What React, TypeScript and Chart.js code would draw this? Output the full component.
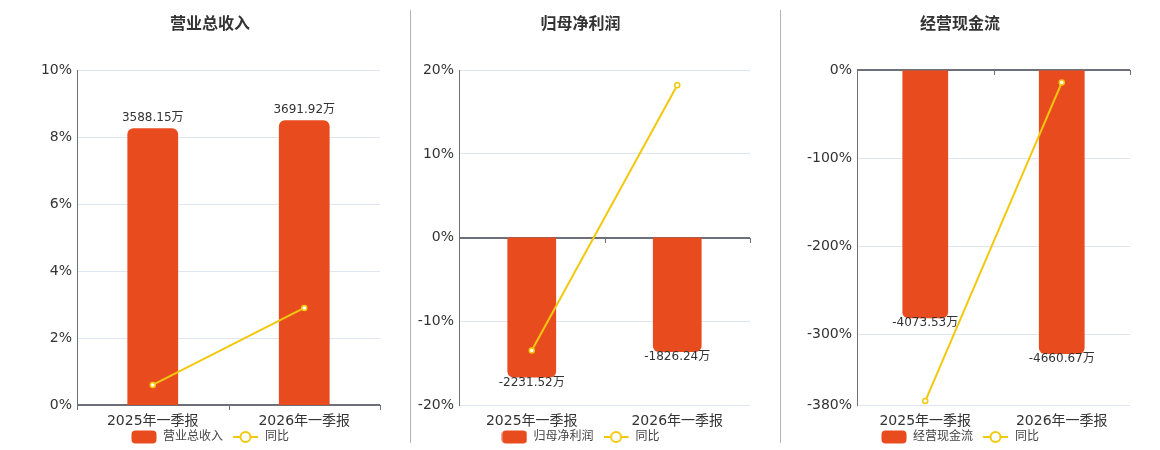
import React, { useEffect, useRef } from 'react';
import { Chart, registerables } from 'chart.js';

Chart.register(...registerables);

const categories = ['2025年一季报', '2026年一季报'];
const titles = ['营业总收入', '归母净利润', '经营现金流'];
const yoyLabel = '同比';
const unitSuffix = '万';

const revenueValues = [3588.15, 3691.92];
const revenueYoY = [0.6, 2.9];
const profitValues = [-2231.52, -1826.24];
const profitYoY = [-13.5, 18.2];
const cashflowValues = [-4073.53, -4660.67];
const cashflowYoY = [-375.5, -14];

const revenueTicks = [0, 2, 4, 6, 8, 10];
const profitTicks = [-20, -10, 0, 10, 20];
const cashflowTicks = [-380, -300, -200, -100, 0];

const revenueBarRange = [0, 4340];
const profitBarRange = [-2672, 2672];
const cashflowBarRange = [-5497, 0];

const BAR = '#e84c1e';
const LINE = '#f2c80f';
const AXIS = '#6e7079';
const GRID = '#e0e6f1';
const TEXT = '#333';
const FONT = "'DejaVu Sans', 'Noto Sans CJK SC', sans-serif";
const CANVAS_H = 470;
const LEGEND_SHIFT = 8;

const zeroAxisPlugin = {
  id: 'zeroAxis',
  beforeDatasetsDraw(chart: any) {
    const { ctx, chartArea, scales } = chart;
    const y = Math.round(scales.y.getPixelForValue(0));
    ctx.save();
    ctx.strokeStyle = AXIS;
    ctx.lineWidth = 2;
    ctx.beginPath();
    ctx.moveTo(chartArea.left, y);
    ctx.lineTo(chartArea.right, y);
    ctx.stroke();
    ctx.lineWidth = 1;
    const n = chart.data.labels.length;
    for (let i = 0; i <= n; i++) {
      const px = Math.round(scales.x.getPixelForValue(i - 0.5)) + 0.5;
      ctx.beginPath();
      ctx.moveTo(px, y);
      ctx.lineTo(px, y + 5);
      ctx.stroke();
    }
    ctx.restore();
  },
};

const barLabelPlugin = {
  id: 'barLabels',
  afterDatasetDraw(chart: any, args: any) {
    if (args.index !== 0) return;
    const { ctx } = chart;
    const data = chart.data.datasets[0].data as number[];
    ctx.save();
    ctx.font = `12px ${FONT}`;
    ctx.fillStyle = TEXT;
    ctx.textAlign = 'center';
    ctx.textBaseline = 'middle';
    args.meta.data.forEach((el: any, i: number) => {
      const v = data[i];
      const text = v.toFixed(2) + unitSuffix;
      const y = v >= 0 ? el.y - 10.5 : el.y + 5;
      ctx.fillText(text, el.x, y);
    });
    ctx.restore();
  },
};

const legendShiftPlugin = {
  id: 'legendShift',
  afterLayout(chart: any) {
    if (chart.legend) {
      chart.legend.top -= LEGEND_SHIFT;
      chart.legend.bottom -= LEGEND_SHIFT;
    }
  },
};

function makeBarIcon() {
  const c = document.createElement('canvas');
  c.width = 26;
  c.height = 14;
  const g = c.getContext('2d')!;
  g.fillStyle = BAR;
  g.beginPath();
  (g as any).roundRect(0.5, 0.5, 25, 13, 4);
  g.fill();
  return c;
}

function makeLineIcon() {
  const c = document.createElement('canvas');
  c.width = 26;
  c.height = 14;
  const g = c.getContext('2d')!;
  g.strokeStyle = LINE;
  g.lineWidth = 2;
  g.beginPath();
  g.moveTo(0, 7);
  g.lineTo(25, 7);
  g.stroke();
  g.beginPath();
  g.arc(12.5, 7, 5, 0, Math.PI * 2);
  g.fillStyle = '#fff';
  g.fill();
  g.stroke();
  return c;
}

type PanelProps = {
  title: string;
  values: number[];
  yoy: number[];
  ticks: number[];
  barRange: number[];
  left: number;
  width: number;
  padL: number;
  padR: number;
  yWidth: number;
};

function Panel(p: PanelProps) {
  const ref = useRef<HTMLCanvasElement | null>(null);
  useEffect(() => {
    if (!ref.current) return;
    const barIcon = makeBarIcon();
    const lineIcon = makeLineIcon();
    const chart = new Chart(ref.current, {
      type: 'bar',
      data: {
        labels: categories,
        datasets: [
          {
            type: 'bar',
            label: p.title,
            data: p.values,
            backgroundColor: BAR,
            borderRadius: 6,
            borderSkipped: 'start',
            categoryPercentage: 1,
            barPercentage: 0.335,
            yAxisID: 'y1',
            order: 2,
          } as any,
          {
            type: 'line',
            label: yoyLabel,
            data: p.yoy,
            borderColor: LINE,
            borderWidth: 2,
            pointRadius: 2.5,
            pointBorderWidth: 1.5,
            pointBackgroundColor: '#fff',
            pointBorderColor: LINE,
            yAxisID: 'y',
            order: 1,
          } as any,
        ],
      },
      options: {
        responsive: false,
        animation: false,
        devicePixelRatio: 1,
        layout: { padding: { left: p.padL, right: p.padR, top: 13, bottom: CANVAS_H - 461 } },
        plugins: {
          tooltip: { enabled: false },
          title: {
            display: true,
            text: p.title,
            color: TEXT,
            font: { family: FONT, size: 16, weight: 'bold' },
            padding: { top: 2, bottom: 36 },
          },
          legend: {
            position: 'bottom',
            labels: {
              usePointStyle: true,
              pointStyleWidth: 26,
              boxHeight: 12,
              padding: 10,
              color: '#444',
              font: { family: FONT, size: 12 },
              generateLabels: () => [
                { text: p.title, pointStyle: barIcon, fillStyle: BAR, strokeStyle: BAR, lineWidth: 0, hidden: false, datasetIndex: 0, fontColor: '#444' },
                { text: yoyLabel, pointStyle: lineIcon, fillStyle: LINE, strokeStyle: LINE, lineWidth: 0, hidden: false, datasetIndex: 1, fontColor: '#444' },
              ] as any,
            },
          },
        },
        scales: {
          x: {
            grid: { display: false, drawTicks: false, tickLength: 0 },
            border: { display: false },
            ticks: { color: TEXT, font: { family: FONT, size: 14 }, padding: 8, maxRotation: 0 },
            afterFit: (s: any) => { s.height = 24; },
          },
          y: {
            position: 'left',
            min: p.ticks[0],
            max: p.ticks[p.ticks.length - 1],
            afterBuildTicks: (s: any) => { s.ticks = p.ticks.map((v) => ({ value: v })); },
            afterFit: (s: any) => { s.width = p.yWidth; },
            grid: {
              drawTicks: false,
              color: (c: any) => (c.tick && c.tick.value === 0 ? 'rgba(0,0,0,0)' : GRID),
              lineWidth: 1,
            },
            border: { display: true, color: AXIS, width: 1 },
            ticks: {
              color: TEXT,
              padding: 5,
              font: { family: FONT, size: 14 },
              callback: (v: any) => `${v}%`,
            },
          },
          y1: {
            display: false,
            min: p.barRange[0],
            max: p.barRange[1],
          },
        },
      } as any,
      plugins: [zeroAxisPlugin, barLabelPlugin, legendShiftPlugin],
    });
    return () => chart.destroy();
  }, []);
  return (
    <div style={{ position: 'absolute', left: p.left, top: 0, width: p.width, height: 450, overflow: 'hidden' }}>
      <canvas ref={ref} width={p.width} height={CANVAS_H} style={{ display: 'block' }} />
    </div>
  );
}

export default function App() {
  return (
    <div style={{ position: 'fixed', left: 0, top: 0, width: 1160, height: 450, overflow: 'hidden', background: '#fff' }}>
      <Panel title={titles[0]} values={revenueValues} yoy={revenueYoY} ticks={revenueTicks} barRange={revenueBarRange}
        left={0} width={410} padL={40} padR={30} yWidth={37} />
      <Panel title={titles[1]} values={profitValues} yoy={profitYoY} ticks={profitTicks} barRange={profitBarRange}
        left={411} width={369} padL={0} padR={30} yWidth={48} />
      <Panel title={titles[2]} values={cashflowValues} yoy={cashflowYoY} ticks={cashflowTicks} barRange={cashflowBarRange}
        left={781} width={379} padL={9} padR={30} yWidth={67} />
      <div style={{ position: 'absolute', left: 410, top: 10, width: 1, height: 433, background: '#b4b4b4' }} />
      <div style={{ position: 'absolute', left: 780, top: 10, width: 1, height: 433, background: '#b4b4b4' }} />
    </div>
  );
}
